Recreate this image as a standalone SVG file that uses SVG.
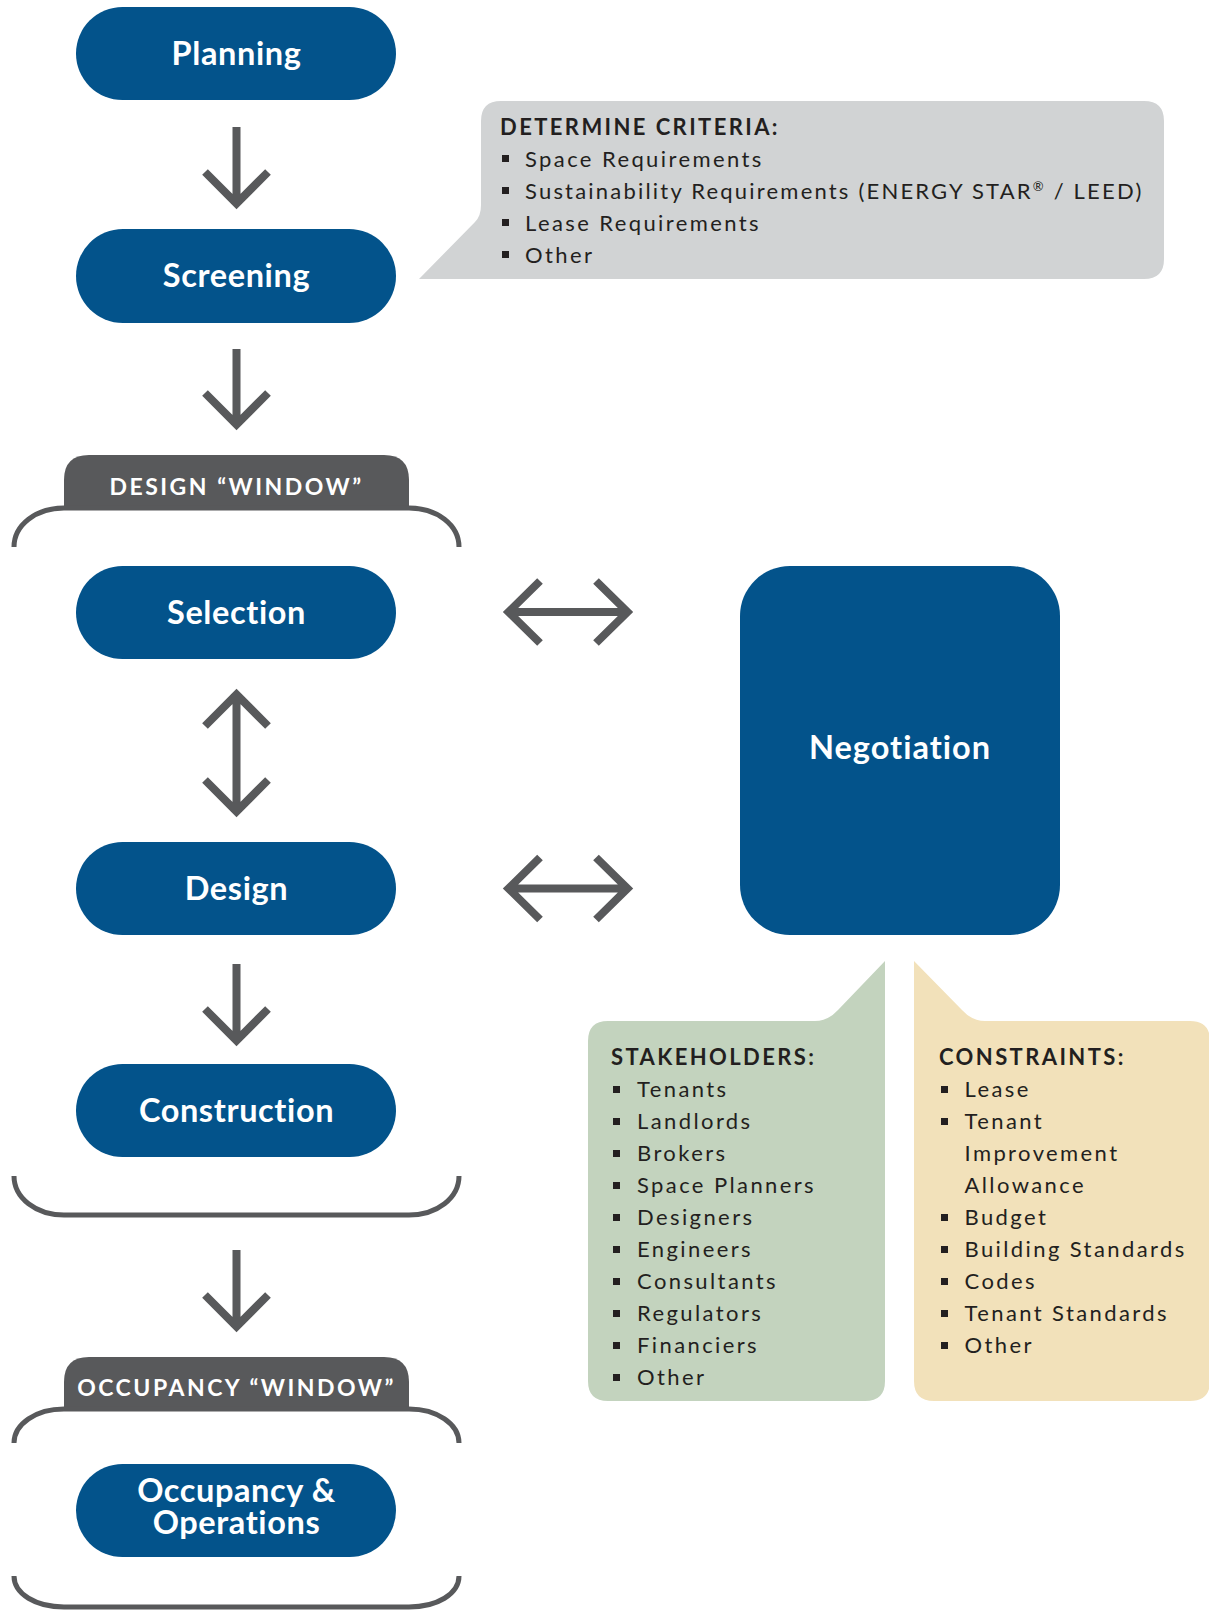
<svg xmlns="http://www.w3.org/2000/svg" xmlns:xlink="http://www.w3.org/1999/xlink" width="1209" height="1610" viewBox="0 0 1209 1610">
<style>
.pill{fill:#03538B}
.pt{font-family:Lato,"Liberation Sans",sans-serif;font-weight:700;font-size:32.5px;fill:#fff;text-anchor:middle;letter-spacing:0.6px}
.tab{fill:#58595B}
.tt{font-family:Lato,"Liberation Sans",sans-serif;font-weight:700;font-size:23px;fill:#fff;text-anchor:middle;letter-spacing:2.5px}
.br{fill:none;stroke:#58595B;stroke-width:5}
.ar{fill:none;stroke:#58595B;stroke-width:8;stroke-miterlimit:10}
.h{font-family:Lato,"Liberation Sans",sans-serif;font-weight:700;font-size:22px;fill:#231F20;letter-spacing:2.4px}
.i{font-family:Lato,"Liberation Sans",sans-serif;font-weight:400;font-size:22px;fill:#231F20;letter-spacing:2.4px}
.bu{fill:#231F20}
</style>
<defs>
<rect id="b" width="7" height="7" class="bu"/>
</defs>
<rect width="1209" height="1610" fill="#fff"/>

<g id="callout-criteria">
<path d="M501 101H1144Q1164 101 1164 121V259Q1164 279 1144 279H419L475 222Q481 216 481 205V121Q481 101 501 101Z" fill="#D1D3D4"/>
<text class="h" x="500" y="135">DETERMINE CRITERIA:</text>
<use xlink:href="#b" x="502" y="155"/>
<text class="i" x="525" y="167">Space Requirements</text>
<use xlink:href="#b" x="502" y="187"/>
<text class="i" x="525" y="199" style="letter-spacing:2.2px">Sustainability Requirements (ENERGY STAR<tspan font-size="13" dy="-8">®</tspan><tspan dy="8"> / LEED)</tspan></text>
<use xlink:href="#b" x="502" y="219"/>
<text class="i" x="525" y="231">Lease Requirements</text>
<use xlink:href="#b" x="502" y="251"/>
<text class="i" x="525" y="263">Other</text>
</g>

<g id="design-window">
<path class="tab" d="M64 508V480Q64 455 89 455H384Q409 455 409 480V508Z"/>
<text class="tt" x="236.5" y="495">DESIGN “WINDOW”</text>
<path class="br" d="M14 547C14 525 36 508 64 508H409C437 508 459 525 459 547"/>
<path class="br" d="M14 1176C14 1198 36 1215 64 1215H409C437 1215 459 1198 459 1176"/>
</g>

<g id="occupancy-window">
<path class="tab" d="M64 1409V1382Q64 1357 89 1357H384Q409 1357 409 1382V1409Z"/>
<text class="tt" x="236.5" y="1396">OCCUPANCY “WINDOW”</text>
<path class="br" d="M14 1443C14 1424 36 1409 64 1409H409C437 1409 459 1424 459 1443"/>
<path class="br" d="M14 1576C14 1594 36 1607 64 1607H409C437 1607 459 1594 459 1576"/>
</g>

<g id="planning"><rect class="pill" x="76" y="7" width="320" height="93" rx="46.5"/><text class="pt" x="236.5" y="64.5">Planning</text></g>
<g id="screening"><rect class="pill" x="76" y="229" width="320" height="94" rx="47"/><text class="pt" x="236.5" y="287">Screening</text></g>
<g id="selection"><rect class="pill" x="76" y="566" width="320" height="93" rx="46.5"/><text class="pt" x="236.5" y="623.5">Selection</text></g>
<g id="design"><rect class="pill" x="76" y="842" width="320" height="93" rx="46.5"/><text class="pt" x="236.5" y="899.5">Design</text></g>
<g id="construction"><rect class="pill" x="76" y="1064" width="320" height="93" rx="46.5"/><text class="pt" x="236.5" y="1121.5">Construction</text></g>
<g id="occupancy"><rect class="pill" x="76" y="1464" width="320" height="93" rx="46.5"/><text class="pt"><tspan x="236.5" y="1502">Occupancy &amp;</tspan><tspan x="236.5" y="1534">Operations</tspan></text></g>
<g id="negotiation"><rect class="pill" x="740" y="566" width="320" height="369" rx="50"/><text class="pt" x="900" y="758.5" style="letter-spacing:1px">Negotiation</text></g>

<g id="callout-stakeholders">
<path d="M608 1021H815Q828 1021 838 1010L885 961V1381Q885 1401 865 1401H608Q588 1401 588 1381V1041Q588 1021 608 1021Z" fill="#C3D3BE"/>
<text class="h" x="611" y="1065">STAKEHOLDERS:</text>
<use xlink:href="#b" x="613" y="1086"/><text class="i" x="637" y="1097">Tenants</text>
<use xlink:href="#b" x="613" y="1118"/><text class="i" x="637" y="1129">Landlords</text>
<use xlink:href="#b" x="613" y="1150"/><text class="i" x="637" y="1161">Brokers</text>
<use xlink:href="#b" x="613" y="1182"/><text class="i" x="637" y="1193">Space Planners</text>
<use xlink:href="#b" x="613" y="1214"/><text class="i" x="637" y="1225">Designers</text>
<use xlink:href="#b" x="613" y="1246"/><text class="i" x="637" y="1257">Engineers</text>
<use xlink:href="#b" x="613" y="1278"/><text class="i" x="637" y="1289">Consultants</text>
<use xlink:href="#b" x="613" y="1310"/><text class="i" x="637" y="1321">Regulators</text>
<use xlink:href="#b" x="613" y="1342"/><text class="i" x="637" y="1353">Financiers</text>
<use xlink:href="#b" x="613" y="1374"/><text class="i" x="637" y="1385">Other</text>
</g>

<g id="callout-constraints">
<path d="M914 961L962 1010Q972 1021 985 1021H1190Q1210 1021 1210 1041V1381Q1210 1401 1190 1401H934Q914 1401 914 1381Z" fill="#F2E1BA"/>
<text class="h" x="939" y="1065">CONSTRAINTS:</text>
<use xlink:href="#b" x="941" y="1086"/><text class="i" x="964.5" y="1097">Lease</text>
<use xlink:href="#b" x="941" y="1118"/><text class="i" x="964.5" y="1129">Tenant</text>
<text class="i" x="964.5" y="1161">Improvement</text>
<text class="i" x="964.5" y="1193">Allowance</text>
<use xlink:href="#b" x="941" y="1214"/><text class="i" x="964.5" y="1225">Budget</text>
<use xlink:href="#b" x="941" y="1246"/><text class="i" x="964.5" y="1257">Building Standards</text>
<use xlink:href="#b" x="941" y="1278"/><text class="i" x="964.5" y="1289">Codes</text>
<use xlink:href="#b" x="941" y="1310"/><text class="i" x="964.5" y="1321">Tenant Standards</text>
<use xlink:href="#b" x="941" y="1342"/><text class="i" x="964.5" y="1353">Other</text>
</g>

<g id="connectors">
<path class="ar" d="M236.5 127V203M205 172L236.5 203.5L268 172"/>
<path class="ar" d="M236.5 349V424M205 393L236.5 424.5L268 393"/>
<path class="ar" d="M236.5 695V811M205 726L236.5 694.5L268 726M205 780L236.5 811.5L268 780"/>
<path class="ar" d="M236.5 964V1040M205 1009L236.5 1040.5L268 1009"/>
<path class="ar" d="M236.5 1250V1326M205 1295L236.5 1326.5L268 1295"/>
<path class="ar" d="M509 612H627M540 581L508.5 612L540 643M596 581L627.5 612L596 643"/>
<path class="ar" d="M509 888.5H627M540 857.5L508.5 888.5L540 919.5M596 857.5L627.5 888.5L596 919.5"/>
</g>
</svg>
